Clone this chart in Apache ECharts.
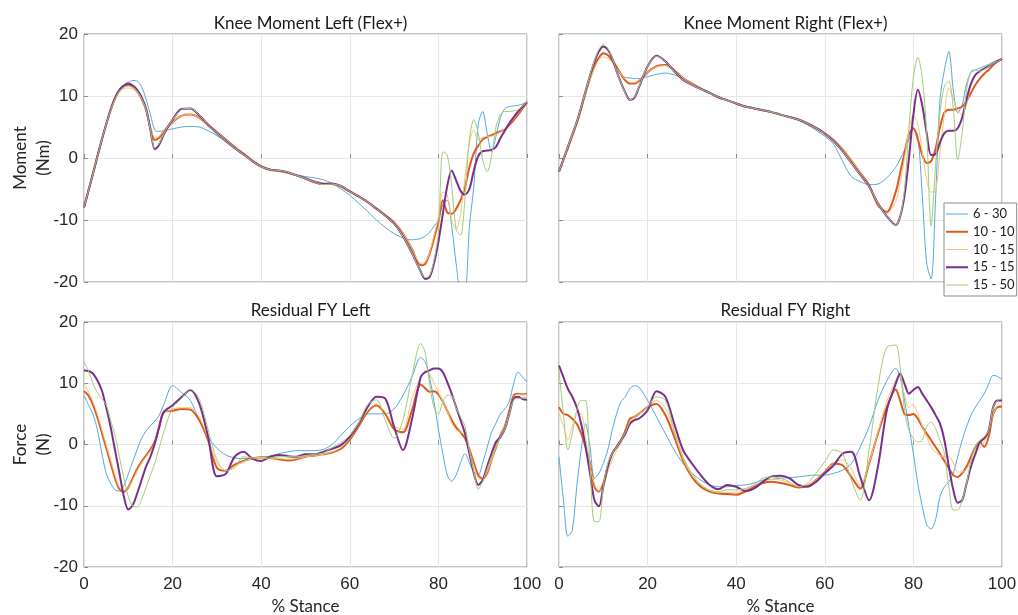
<!DOCTYPE html>
<html>
<head>
<meta charset="utf-8">
<script src="https://cdn.jsdelivr.net/npm/echarts@6/dist/echarts.min.js"></script>
<style>
  html, body { margin: 0; background: #fff; }
  #main { width: 1018px; height: 615px; }
</style>
</head>
<body>
<div id="main"></div>
<script>
// % stance sample points (denser where the curves change fast)
const stance = [0,1,2,3,4,5,6,7,8,9,10,11,12,13,14,15,16,17,18,
  20,22,24,26,28,30,32,34,36,38,40,42,44,46,48,50,52,54,56,58,60,62,64,66,68,70,72,74,76,
  77,78,79,80,81,82,83,84,85,86,87,88,89,90,91,92,93,94,95,96,97,98,99,100];

const runs = ['6 - 30', '10 - 10', '10 - 15', '15 - 15', '15 - 50'];
const runColors = ['#55a7df', '#dc5a1e', '#f3c77a', '#7b2f8c', '#a3cd76'];
const runWidths = [1, 2, 1, 2, 1];
const xTicks = [0, 20, 40, 60, 80, 100];
const yTicks = [-20, -10, 0, 10, 20];

// Knee Moment Left (Nm)
const kneeL_630 = [-8,-5.3,-2.6,0.2,2.9,5.4,7.8,9.6,10.9,11.8,12.2,12.5,12.4,11.5,9.5,7,4.5,4.3,4.4,
  4.7,5,5.1,5,4.4,3.6,2.6,1.5,0.5,-0.5,-1.3,-1.8,-2.1,-2.4,-2.7,-3,-3.2,-3.5,-4.1,-5,-6,-7.3,-8.6,-10,-11.2,-12.2,-12.9,-13.2,-13,
  -12.6,-12,-11,-10,-7.5,-6.8,-11,-17,-21,-21,-11,-4.5,5.5,7.5,4,1,3.5,6.5,8,8.3,8.4,8.5,8.7,9];
const kneeL_1010 = [-8,-5.3,-2.6,0.2,2.9,5.4,7.7,9.6,10.9,11.6,11.8,11.5,10.8,9.5,7.8,4.8,2.9,3.3,4.3,
  5.8,6.8,7,6.5,5.3,4.2,3,1.8,0.7,-0.4,-1.3,-1.9,-2.1,-2.4,-2.8,-3.3,-3.8,-4.1,-4.2,-4.6,-5.4,-6.2,-7.1,-8.1,-9.2,-10.4,-12.2,-14.6,-17.3,
  -17.1,-15.5,-13,-10.3,-6.8,-8.8,-9,-8.2,-6.8,-4.7,-1.5,0.8,2,3,3.4,3.7,4,4.3,4.6,5.3,6.1,7,8,9];
const kneeL_1015 = [-8,-5.3,-2.6,0.2,2.9,5.3,7.5,9.3,10.6,11.2,11.3,11.1,10.5,9.3,7.8,5,3.2,3.5,4.4,
  5.8,6.8,7,6.5,5.3,4.2,3,1.8,0.7,-0.4,-1.3,-1.9,-2.1,-2.4,-2.8,-3.3,-3.8,-4.1,-4.2,-4.6,-5.4,-6.2,-7.1,-8.1,-9.2,-10.4,-12.2,-14.5,-17,
  -16.8,-15.3,-12.5,-9.5,-5.5,-6,-10,-11.5,-9,-3,2.4,4.5,3,3.3,3.5,3.5,3.8,4.2,4.8,5.5,6.3,7.2,8.1,9];
const kneeL_1515 = [-8,-5.3,-2.6,0.2,2.9,5.4,7.8,9.7,11,11.7,12,11.7,11,9.8,8,4.5,1.4,2.2,3.8,
  6.2,7.9,8,6.9,5.4,4,2.8,1.6,0.6,-0.5,-1.4,-1.9,-2,-2.3,-2.8,-3.3,-3.9,-4.2,-4.1,-4.5,-5.4,-6.2,-7.1,-8.2,-9.3,-10.6,-12.6,-15.3,-18.3,
  -19.5,-19.2,-17,-13.5,-9,-4.5,-2,-3.6,-5.3,-5.9,-5,-2,0.3,1.1,1.2,1.3,1.8,3.2,4.4,5.6,6.6,7.5,8.3,9];
const kneeL_1550 = [-8,-5.3,-2.6,0.2,2.9,5.4,7.7,9.5,10.8,11.4,11.6,11.4,10.8,9.6,7.8,4.5,1.6,2.4,3.9,
  6.2,7.8,8,6.9,5.4,4,2.8,1.6,0.6,-0.5,-1.4,-1.9,-2,-2.3,-2.8,-3.3,-3.9,-4.3,-4.2,-4.5,-5.4,-6.2,-7.1,-8.2,-9.3,-10.6,-12.6,-15.3,-18.3,
  -19.3,-19,-16.5,-12,1,0.5,-4.5,-11.5,-12.5,-6.5,3,6.2,4,-0.3,-2.2,0.3,5,7,7.5,7.5,7.6,7.8,8.4,9];

// Knee Moment Right (Nm)
const kneeR_630 = [-2.2,-0.2,1.8,3.8,5.8,8.2,10.6,12.9,14.8,16.2,16.8,16.5,15.5,14.2,13.4,13,12.9,12.8,12.8,
  13.1,13.5,13.7,13.4,12.9,12.1,11.3,10.6,9.9,9.3,8.8,8.3,8,7.7,7.4,7,6.6,6.1,5.4,4.5,3.5,2.2,-0.5,-3,-3.8,-4.3,-4.2,-3.2,-1.5,
  -0.2,1.3,3,4.8,3.5,-6,-17,-19.5,-6.7,9.4,14.2,17.2,11,7.3,8.5,12,13.8,14.2,14.5,14.8,15.1,15.5,15.8,16];
const kneeR_1010 = [-2.2,-0.3,1.6,3.6,5.6,8,10.5,12.8,14.8,16.2,16.9,16.6,15.8,14.7,13.5,12.5,12,12,12.4,
  13.8,14.8,15,14.2,12.9,12,11.2,10.5,9.8,9.3,8.8,8.3,8,7.7,7.4,7,6.6,6.2,5.6,4.9,4,2.9,1.4,-0.4,-2.4,-4.4,-7.6,-8.7,-5.5,
  -2.4,0.8,3.8,4.8,3,0.5,-0.8,-0.5,1.5,5,7.3,7.8,7.8,8,8.3,9.2,10.5,11.8,12.8,13.6,14.2,15,15.6,16];
const kneeR_1015 = [-2.2,-0.3,1.6,3.6,5.6,8,10.4,12.6,14.5,15.8,16.3,16.1,15.4,14.5,13.5,12.7,12.2,12.2,12.5,
  13.8,14.7,14.9,14.2,12.9,12,11.2,10.5,9.8,9.3,8.8,8.3,8,7.7,7.4,7,6.6,6.2,5.6,4.9,4,2.9,1.4,-0.4,-2.4,-4.5,-7.5,-9,-7,
  -4,0,4.5,7,5.5,1,-3.5,-5.5,-5.3,1,7,11.3,9.5,7.5,7,8.5,12,13.5,14,14.5,14.9,15.2,15.6,16];
const kneeR_1515 = [-2.2,-0.2,1.8,3.8,5.8,8.2,10.8,13.3,15.5,17.2,18,17.5,16.1,14,12.1,10.5,9.4,9.7,11.3,
  14.8,16.5,15.6,14,12.6,11.8,11.1,10.5,9.8,9.3,8.8,8.3,8,7.7,7.4,7,6.6,6.2,5.6,4.8,3.9,2.7,1.1,-0.8,-2.7,-4.6,-7.3,-9.4,-10.8,
  -9.5,-6,0,7,11,8.5,4,0.5,0.6,2.5,4,4.4,4.4,4.8,6.5,9.5,12,13.4,14,14.4,14.8,15.2,15.6,16];
const kneeR_1550 = [-2.2,-0.2,1.8,3.8,5.8,8.2,10.8,13.4,15.7,17.5,18.3,17.7,16.2,14,12.1,10.4,9.4,9.8,11.4,
  14.8,16.4,15.6,14,12.6,11.8,11.1,10.5,9.8,9.3,8.8,8.3,8,7.7,7.4,7,6.6,6.2,5.6,4.8,3.9,2.7,1.1,-0.8,-2.7,-4.6,-7.3,-9.4,-10.8,
  -9.5,-5,5,13,16.2,13,4,-11,-1.3,7.3,11.6,12.4,8,-0.3,4,11,14,14.2,14,14.3,14.8,15.2,15.6,16];

// Residual FY Left (N)
const fyL_630 = [8,6.5,5,2.5,-1.3,-4.7,-6.3,-7.4,-7.6,-6.7,-4.8,-2.8,-0.8,1,2.2,3.1,3.8,4.8,6.5,
  9.6,8.5,7.2,4,1.2,-0.6,-1.7,-2.2,-2.3,-2.2,-2.1,-1.9,-1.5,-1.2,-1,-1,-1,-0.8,0,1.5,3,4.2,5,5,5,5.8,8,11,14.2,
  13.5,11,7,2.5,-1.5,-5,-6,-5,-3,-1.5,-3,-4.5,-5,-3,-0.5,2,3.5,5,5.8,7,10,11.8,11,10.2];
const fyL_1010 = [8.7,8,6.5,4.5,2,-0.5,-3,-5.5,-7.3,-7.7,-7,-5.5,-4,-2.8,-1.8,-0.8,0.5,3,5.3,
  5.5,5.8,5.7,4,0.7,-3.8,-4.3,-3.3,-2.7,-2.3,-2.1,-2.2,-2.4,-2.6,-2.4,-2,-1.8,-1.6,-1.3,-0.7,0.8,3,5.3,6.4,5,2.5,2,5.5,9.8,
  9.2,8.6,8.7,8.2,7,5.5,4,2.8,2,1,-0.8,-3,-5,-5.6,-4.7,-2.5,-0.5,1.5,3,5.5,8,8.3,8.2,8.3];
const fyL_1015 = [10,8.6,7,5,2.5,0,-2.5,-5,-7,-7.5,-7,-5.8,-4.3,-3,-2,-1,0.3,2.8,5,
  5.8,6,6,4.5,1,-3,-4.2,-3.6,-2.8,-2.3,-2.1,-2.2,-2.3,-2.4,-2.3,-2,-1.8,-1.6,-1.2,-0.5,1,3.2,5.5,6.6,5.3,3,2.5,7.5,11,
  12,11.5,10,8.5,7,5.5,3.5,2.4,2,1.5,-1,-3.5,-5.5,-5.7,-4.5,-2.5,-0.5,1.4,3,5.3,7.8,8.2,8.2,8.2];
const fyL_1515 = [12.1,12,11.6,10.5,8.9,6.1,2.9,-0.9,-4.7,-8.5,-10.6,-9.9,-8,-5.8,-3.6,-2,0.2,2.9,5.3,
  6.4,7.7,8.9,6.7,1.3,-5.2,-4.8,-2,-1.2,-2.3,-2.7,-2,-1.7,-1.9,-2,-1.6,-1.6,-1.2,-0.7,-0.1,1.3,3.4,6.1,7.8,7.5,2.9,-0.9,4,11,
  11.8,12.1,12.4,12.4,11.8,10.2,8.3,6.1,4,1.8,-1.5,-4.7,-6.6,-5.8,-3.6,-1.5,0.4,1.2,2.5,5,7.5,7.8,7.4,7.3];
const fyL_1550 = [13.5,12,10,8.5,7.5,6.5,4,1.5,-2,-5.5,-8.5,-10,-10.2,-9,-7,-5,-3,-0.5,2,
  6,7.5,9,7.5,2.5,-2.5,-4.3,-3.8,-2,-2.2,-2.3,-2.2,-2,-2,-2,-1.8,-1.6,-1.4,-0.5,0.3,1.5,3.5,6.5,7.3,4,1,4,11,16.5,
  15,10,6,5,7,8,8,6,4.5,3,-1,-4.5,-7.3,-6,-4,-2,-0.3,1.2,2.5,5,7.3,7.5,7.6,7.8];

// Residual FY Right (N)
const fyR_630 = [-2,-9.1,-15,-14,-6.9,-0.9,3.4,-0.4,-5.5,-4.7,-3.1,-0.9,2.3,5,7,7.8,9.1,9.6,9.4,
  7.2,4.5,1.8,-0.9,-3.1,-4.7,-5.8,-6.6,-6.9,-6.9,-6.7,-6.6,-6.3,-5.8,-5.7,-5.5,-5.4,-5.3,-5.1,-5,-5,-4.7,-4.2,-3.1,-0.4,2.9,7.2,10.4,12.4,
  11,7.2,2.9,-1.5,-6.4,-10.1,-13.1,-13.8,-12.3,-8.5,-6.9,-6.1,-4.7,-2,0.7,2.9,4.8,6.1,7.2,8.3,9.9,11.3,11.1,10.6];
const fyR_1010 = [6.1,5,4.8,4.2,3.4,1.8,-0.4,-3.1,-6.9,-7.7,-6.4,-3.6,-1.5,-0.4,0.7,2.3,4.2,4.5,5,
  6.1,6.6,4.8,1.3,-2.6,-5.3,-6.9,-7.7,-8,-8.1,-8.2,-7.7,-6.9,-6.3,-6.1,-6.3,-6.6,-7,-6.8,-5.8,-4.5,-3.1,-3.4,-5.3,-7.2,-3.1,1.8,6.1,9,
  7.2,5,4.8,5,4.2,2.9,1.8,0.7,-0.4,-1.5,-2.7,-3.9,-5,-5.3,-4.7,-3.6,-2,-0.4,0.4,-0.4,1.3,5,6.1,6.2];
const fyR_1015 = [5,3,0.8,3,4.8,5,1,-3.5,-6.5,-7.6,-7,-4.5,-2.5,-1,0.2,1.8,3.8,4.5,5,
  6,7.2,6,2,-2.3,-5,-6.5,-7.5,-7.8,-7.8,-7.8,-7.4,-6.7,-6,-5.7,-5.8,-6.3,-6.8,-6.6,-5.8,-4.5,-3,-2.5,-4,-6.7,-3,2,7,10.5,
  11,8,6,6.5,5,3,1.2,-0.5,-1.2,-1.8,-2,-2,-3,-4.5,-4.5,-4,-2.8,-1.5,-0.5,0.5,2,5,6.3,6.5];
const fyR_1515 = [12.9,11,9.1,7.8,6.1,3.4,-0.4,-4.7,-9.1,-10.1,-6.9,-3.6,-1.5,-0.4,0.7,1.8,3.4,4,4.2,
  5.6,8.7,7.8,3.4,-0.9,-3.1,-5,-6.6,-7.3,-6.6,-6.9,-7.6,-7.2,-6.1,-5.2,-5.1,-5.5,-6.6,-6.9,-6.1,-4.7,-3.4,-1.5,-1.2,-5.3,-9.1,-3.6,5.6,9.9,
  11.6,9.9,8.3,8.9,9.4,8.3,7.2,6.1,4.8,3.4,0.7,-3.6,-7.4,-9.5,-9.1,-6.4,-3.6,-1.5,0.4,1,2.3,6.1,7.2,7.2];
const fyR_1550 = [12.1,5,-0.9,1.8,5.6,7.2,7.2,-3.6,-12.6,-12.6,-6.9,-3.1,-1.5,-0.4,0.7,2,3.7,4.2,4.8,
  6.1,7.8,7.2,2.3,-2,-4.7,-6.6,-7.4,-7.7,-7.4,-7.4,-7.2,-6.6,-5.5,-5.3,-5.5,-6.1,-6.9,-6.4,-4.7,-2.8,-0.9,-1.5,-5.8,-9.1,-0.9,9.4,15.9,16.2,
  12.7,5.6,2.3,1,0.4,0.7,2.9,3.7,2.6,0.7,-1.5,-6.9,-10.7,-10.7,-9.1,-6.4,-2.6,-0.4,0.7,1.3,2.3,6.1,7.2,7.5];

const panels = [
  { title: 'Knee Moment Left (Flex+)', yName: 'Moment\n(Nm)', runsData: [kneeL_630, kneeL_1010, kneeL_1015, kneeL_1515, kneeL_1550] },
  { title: 'Knee Moment Right (Flex+)', yName: '', runsData: [kneeR_630, kneeR_1010, kneeR_1015, kneeR_1515, kneeR_1550] },
  { title: 'Residual FY Left', yName: 'Force\n(N)', runsData: [fyL_630, fyL_1010, fyL_1015, fyL_1515, fyL_1550] },
  { title: 'Residual FY Right', yName: '', runsData: [fyR_630, fyR_1010, fyR_1015, fyR_1515, fyR_1550] }
];

const grids = [
  { left: 84, top: 34, width: 443, height: 248 },
  { left: 559, top: 34, width: 443, height: 248 },
  { left: 84, top: 322, width: 443, height: 245 },
  { left: 559, top: 322, width: 443, height: 245 }
];

const labelFont = 'Liberation Sans';
const textFont = 'Lato';
const frame = '#8a8a8a';

// legend swatch: a plain line, kept at full item size by two invisible corner specks
function lineIcon(w) {
  const y = 7 - w / 2;
  return 'path://M0,0h0.01v0.01h-0.01z M0,' + y + 'h22v' + w + 'h-22z M21.99,13.99h0.01v0.01h-0.01z';
}

const chart = echarts.init(document.getElementById('main'));

const series = [];
panels.forEach((p, i) => {
  p.runsData.forEach((vals, j) => {
    series.push({
      type: 'line',
      name: runs[j],
      xAxisIndex: i,
      yAxisIndex: i,
      data: stance.map((x, k) => [x, vals[k]]),
      symbol: 'none',
      showSymbol: false,
      smooth: 0.3,
      lineStyle: { color: runColors[j], width: runWidths[j] },
      itemStyle: { color: runColors[j] },
      emphasis: { disabled: true }
    });
  });
});

chart.setOption({
  animation: false,
  backgroundColor: '#fff',
  title: panels.map((p, i) => ({
    text: p.title,
    left: grids[i].left + grids[i].width / 2,
    top: i < 2 ? 10 : 297,
    textAlign: 'center',
    textStyle: { fontFamily: textFont, fontSize: 17, fontWeight: 'normal', color: '#1a1a1a' }
  })),
  legend: {
    data: runs.map((r, j) => ({ name: r, icon: lineIcon(runWidths[j]) })),
    orient: 'vertical',
    left: 944,
    top: 203,
    padding: [4, 2, 4, 2],
    itemWidth: 22,
    itemHeight: 14,
    itemGap: 3.75,
    backgroundColor: '#fff',
    borderColor: frame,
    borderWidth: 1,
    borderRadius: 0,
    textStyle: { fontFamily: textFont, fontSize: 13, color: '#1a1a1a' }
  },
  grid: grids.map(g => Object.assign({
    show: true, borderColor: frame, borderWidth: 1, outerBoundsMode: 'none', containLabel: false
  }, g)),
  xAxis: grids.map((g, i) => ({
    type: 'value',
    gridIndex: i,
    min: xTicks[0],
    max: xTicks[xTicks.length - 1],
    interval: 20,
    name: i >= 2 ? '% Stance' : '',
    nameLocation: 'middle',
    nameGap: 31,
    nameMoveOverlap: false,
    nameTextStyle: { fontFamily: textFont, fontSize: 17, color: '#262626' },
    axisLine: { show: false },
    axisTick: { show: true, inside: true, length: 4, lineStyle: { color: frame } },
    axisLabel: { show: i >= 2, fontFamily: labelFont, fontSize: 17, color: '#262626', margin: 9 },
    splitLine: { show: true, lineStyle: { color: '#e6e6e6', width: 1 } }
  })),
  yAxis: grids.map((g, i) => ({
    type: 'value',
    gridIndex: i,
    min: yTicks[0],
    max: yTicks[yTicks.length - 1],
    interval: 10,
    name: panels[i].yName,
    nameLocation: 'middle',
    nameRotate: 90,
    nameGap: 33,
    nameMoveOverlap: false,
    nameTextStyle: { fontFamily: textFont, fontSize: 17, lineHeight: 23, color: '#262626', padding: [0, 0, -4, 0] },
    axisLine: { show: false },
    axisTick: { show: true, inside: true, length: 4, lineStyle: { color: frame } },
    axisLabel: { show: i % 2 === 0, fontFamily: labelFont, fontSize: 17, color: '#262626', margin: 6 },
    splitLine: { show: true, lineStyle: { color: '#e6e6e6', width: 1 } }
  })),
  series: series
});
</script>
</body>
</html>
